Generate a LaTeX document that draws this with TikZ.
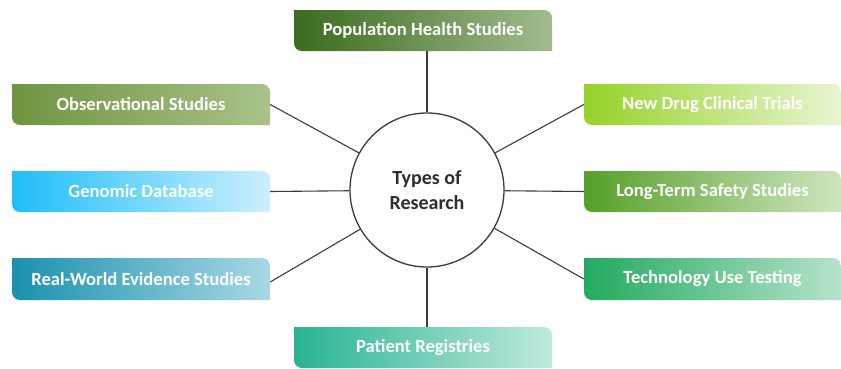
\documentclass[tikz,border=0pt]{standalone}
\usepackage{fontspec}
\setmainfont{Carlito}
\definecolor{popA}{HTML}{3A6B1E}\definecolor{popB}{HTML}{A2BB8E}
\definecolor{obsA}{HTML}{6E9440}\definecolor{obsB}{HTML}{AAC28A}
\definecolor{genA}{HTML}{1EBEF9}\definecolor{genB}{HTML}{CDEFFC}
\definecolor{rwA}{HTML}{1A91AE}\definecolor{rwB}{HTML}{A9D8E4}
\definecolor{ndA}{HTML}{96D228}\definecolor{ndB}{HTML}{E8F5D2}
\definecolor{ltA}{HTML}{55A028}\definecolor{ltB}{HTML}{CFE5C0}
\definecolor{tuA}{HTML}{23AA5F}\definecolor{tuB}{HTML}{B6E3CB}
\definecolor{prA}{HTML}{28B491}\definecolor{prB}{HTML}{BFE9DD}
\definecolor{linec}{HTML}{3C3C3C}
\tikzset{
  boxtext/.style={inner sep=0pt, text=white, font=\bfseries\fontsize{18.6}{22}\selectfont, anchor=center},
  connector/.style={draw=linec, line width=1.1pt},
  hub/.style={circle, draw=linec, line width=1.3pt, minimum size=154pt, inner sep=0pt, align=center, text=black!82, font=\bfseries\fontsize{20}{25}\selectfont}
}
% #1 name, #2 x1, #3 y1 (top, px down), #4 x2, #5 y2 (bottom), #6 colour A, #7 colour B, #8 text
\newcommand\rbox[8]{%
  \path[left color=#6, middle color=#6, right color=#7]
    ({#2},{368-#3}) -- ({#4-8},{368-#3}) arc[start angle=90,end angle=0,radius=8pt]
    -- ({#4},{368-#5}) -- ({#2+8},{368-#5}) arc[start angle=270,end angle=180,radius=8pt] -- cycle;
  \node[boxtext, minimum width={#4-#2}, minimum height={#5-#3}] (#1) at ({(#2+#4)/2},{368-(#3+#5)/2}) {#8};
}
\begin{document}
\begin{tikzpicture}[x=1pt,y=1pt]
\useasboundingbox[fill=white] (0,0) rectangle (841,368);
\node[hub] (c) at (427,{368-190}) {Types of\\Research};
\rbox{pop}{294}{10}{552}{51}{popA}{popB}{Population Health Studies}
\rbox{obs}{12}{84}{270}{125}{obsA}{obsB}{Observational Studies}
\rbox{gen}{12}{171}{270}{212}{genA}{genB}{Genomic Database}
\rbox{rw}{12}{258}{270}{300}{rwA}{rwB}{Real-World Evidence Studies}
\rbox{nd}{584}{84}{841}{125}{ndA}{ndB}{New Drug Clinical Trials}
\rbox{lt}{584}{171}{841}{212}{ltA}{ltB}{Long-Term Safety Studies}
\rbox{tu}{584}{258}{841}{300}{tuA}{tuB}{Technology Use Testing}
\rbox{pr}{294}{327}{552}{368}{prA}{prB}{Patient Registries}
\draw[connector] (pop.south -| c) -- (c);
\draw[connector] (pr.north -| c) -- (c);
\draw[connector] (obs.east) -- (c);
\draw[connector] (gen.east) -- (c);
\draw[connector] ([yshift=-3pt]rw.east) -- (c);
\draw[connector] (nd.west) -- (c);
\draw[connector] (lt.west) -- (c);
\draw[connector] (tu.west) -- (c);
\end{tikzpicture}
\end{document}
